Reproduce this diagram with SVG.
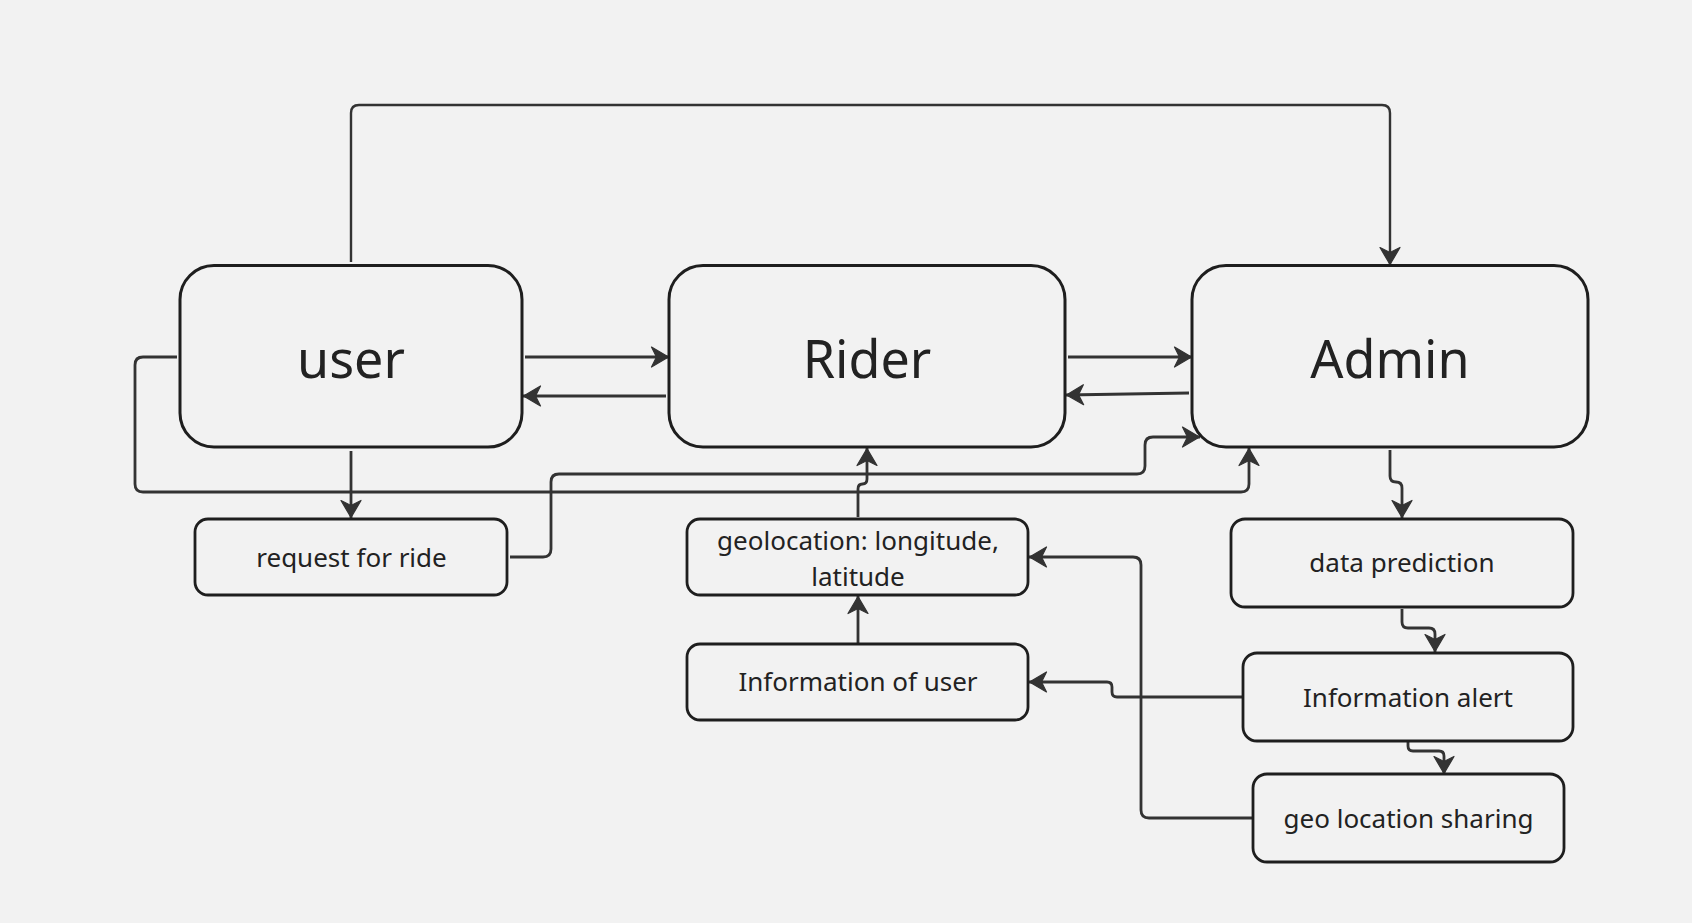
<svg xmlns="http://www.w3.org/2000/svg" width="1692" height="923" viewBox="0 0 1692 923">
<defs>
<style>
.big{fill:#f2f2f2;stroke:#1e1e1e;stroke-width:3}
.sm{fill:#f2f2f2;stroke:#1e1e1e;stroke-width:2.8}
.lbl{font-family:"Noto Sans","Open Sans","DejaVu Sans",sans-serif;fill:#222;text-anchor:middle}
.t52{font-size:52px}
.t26{font-size:26px}
.c{fill:none;stroke:#333;stroke-width:2.8;marker-end:url(#ah)}
</style>
<marker id="ah" markerUnits="userSpaceOnUse" markerWidth="22" markerHeight="24" viewBox="0 0 22 24" refX="19" refY="12" orient="auto">
<path d="M1.5,2 L18.5,12 L1.5,22 L6.5,12 Z" fill="#333" stroke="#333" stroke-width="1.2" stroke-linejoin="round"/>
</marker>
</defs>
<rect width="1692" height="923" fill="#f2f2f2"/>
<g id="connectors">
<path class="c" d="M351,262 V113 Q351,105 359,105 H1382 Q1390,105 1390,113 V265" style="stroke-width:2.4"/>
<path class="c" d="M525,357 H669"/>
<path class="c" d="M666,396 H523"/>
<path class="c" d="M1068,357 H1192"/>
<path class="c" d="M1189,393 L1066,395"/>
<path class="c" d="M351,451 V518"/>
<path class="c" d="M177,357 H143 Q135,357 135,365 V484 Q135,492 143,492 H1241 Q1249,492 1249,484 V448"/>
<path class="c" d="M510,557 H543 Q551,557 551,549 V482 Q551,474 559,474 H1137 Q1145,474 1145,466 V445 Q1145,437 1153,437 H1200"/>
<path class="c" d="M858,517 V489 Q858,484 862.5,484 Q867,484 867,479 V448"/>
<path class="c" d="M858,644 V596"/>
<path class="c" d="M1390,450 V476 Q1390,482 1396,482 Q1402,482 1402,488 V518"/>
<path class="c" d="M1402,609 V622 Q1402,628 1408,628 H1429 Q1435,628 1435,634 V652"/>
<path class="c" d="M1408,742 V746 Q1408,751 1413,751 H1439 Q1444,751 1444,756 V774"/>
<path class="c" d="M1243,697 H1117 Q1112,697 1112,692 V687 Q1112,682 1107,682 H1029"/>
<path class="c" d="M1253,818 H1149 Q1141,818 1141,810 V565 Q1141,557 1133,557 H1029"/>
</g>
<g id="user">
<rect class="big" x="180" y="265.5" width="342" height="181.5" rx="34"/>
<text class="lbl t52" x="351" y="377.7">user</text>
</g>
<g id="rider">
<rect class="big" x="669" y="265.5" width="396" height="181.5" rx="34"/>
<text class="lbl t52" x="867" y="377.7">Rider</text>
</g>
<g id="admin">
<rect class="big" x="1192" y="265.5" width="396" height="181.5" rx="34"/>
<text class="lbl t52" x="1390" y="377.7">Admin</text>
</g>
<g id="request">
<rect class="sm" x="195" y="519" width="312" height="76" rx="13"/>
<text class="lbl t26" x="351.5" y="566.5">request for ride</text>
</g>
<g id="geolocation">
<rect class="sm" x="687" y="519" width="341" height="76" rx="13"/>
<text class="lbl t26" x="858" y="549.5">geolocation: longitude,</text>
<text class="lbl t26" x="858" y="585.5">latitude</text>
</g>
<g id="infouser">
<rect class="sm" x="687" y="644" width="341" height="76" rx="13"/>
<text class="lbl t26" x="858" y="691">Information of user</text>
</g>
<g id="dataprediction">
<rect class="sm" x="1231" y="519" width="342" height="88" rx="14"/>
<text class="lbl t26" x="1402" y="572">data prediction</text>
</g>
<g id="infoalert">
<rect class="sm" x="1243" y="653" width="330" height="88" rx="14"/>
<text class="lbl t26" x="1408" y="706.5">Information alert</text>
</g>
<g id="geosharing">
<rect class="sm" x="1253" y="774" width="311" height="88" rx="14"/>
<text class="lbl t26" x="1408.5" y="828">geo location sharing</text>
</g>
</svg>
